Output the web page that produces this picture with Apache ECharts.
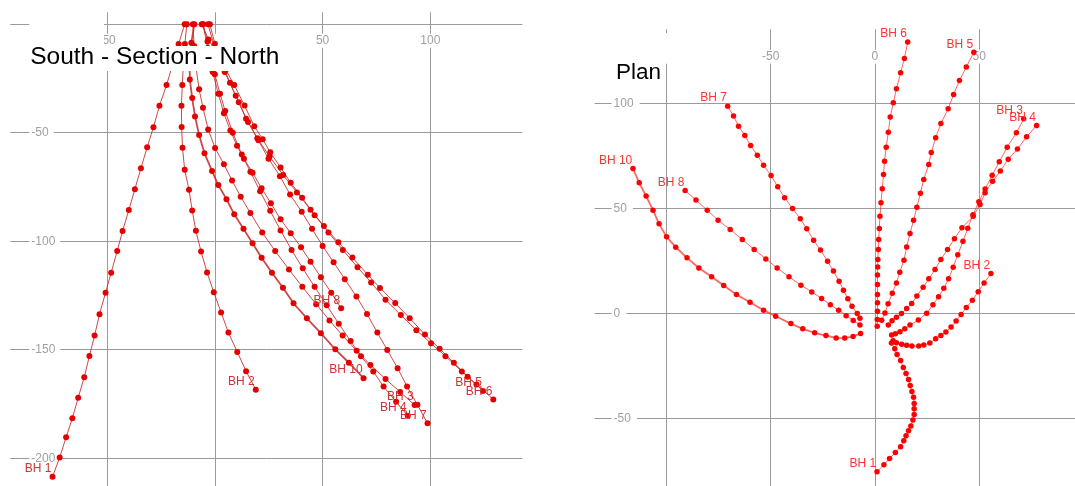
<!DOCTYPE html>
<html>
<head>
<meta charset="utf-8">
<script src="https://cdn.jsdelivr.net/npm/echarts@6.0.0/dist/echarts.min.js"></script>
<style>
  html, body { margin: 0; padding: 0; background: #fff; }
  #chart { width: 1075px; height: 486px; }
</style>
</head>
<body>
<div id="chart"></div>
<script>
// Borehole survey stations: [East, North, Elevation]
const BH1 = [[7.9,-14,0],[9.5,-16.8,-9.1],[10.6,-19.5,-18.3],[12.3,-22.4,-28],[13.6,-25.7,-37.6],[14.9,-28.5,-47.5],[16.1,-31.4,-56.7],[16.9,-34.3,-66.4],[17.7,-37.1,-76],[18.5,-39.9,-85.6],[18.8,-42.8,-95.3],[18.8,-45.3,-104.5],[18.8,-48.1,-114.5],[18.2,-50.7,-123.7],[17.2,-53.5,-133.6],[16.1,-55.8,-143.5],[14.9,-58.2,-152.9],[13.8,-60.6,-162.7],[12.3,-63.4,-172.1],[9.8,-66.1,-181.6],[7.0,-69,-190.3],[4.3,-72,-199.7],[1.0,-75.3,-208.5]];
const BH2 = [[8.7,-13,0],[10.3,-13.9,-9.1],[12.8,-14.6,-18.3],[15.2,-15.1,-28],[17.7,-15.5,-37.6],[21,-15.4,-47.4],[23.4,-15,-56.9],[26.3,-14,-67.1],[29.1,-12,-76.3],[31.6,-10.5,-85.8],[34,-8.8,-95.2],[36.5,-6.4,-104.7],[38.9,-3.6,-114.4],[41.3,-0.5,-123.5],[43.8,2.9,-132.8],[46.7,6.3,-142.1],[49.5,10.4,-151],[52.3,14.5,-159.9],[55.6,19,-168.4]];
const BH3 = [[8,-10.2,0],[9.8,-9.6,-10],[12,-8.7,-20],[14.3,-7.3,-30],[16.8,-5.5,-38.5],[20.8,-3.1,-48.5],[24.8,0.1,-57],[27.8,4.2,-64.5],[30.5,8,-72],[33,12,-79.5],[35.3,16.5,-87],[37.5,22,-96],[39.7,28,-104.5],[42.2,34.4,-113],[44.5,40.6,-121],[47,47,-129],[49.8,53.2,-136.5],[52.8,59.3,-143.5],[56.2,65.8,-150.5],[59.6,72.2,-157],[63.4,79.2,-163.5],[67.8,86,-169.5],[71.3,92.7,-175.5]];
const BH4 = [[6.4,-5.5,0],[8.2,-3.4,-8],[10.3,-1.8,-15],[12.7,0,-23],[15.2,2.4,-32],[17.6,4.8,-40],[20.1,8.3,-50],[23.1,12.5,-60],[25.8,16.5,-68],[28.8,21,-77],[31.6,25.7,-86],[34.8,30.5,-95],[38.1,35.6,-104],[41.7,40.8,-112.5],[47.1,46.3,-121],[50.4,51.9,-129.5],[52.8,57.5,-138],[56.4,63,-146],[60.1,67.8,-153],[63.9,73.5,-160],[68.3,78.3,-167],[72.7,84.1,-174],[77.5,89.5,-180.4]];
const BH5 = [[3.2,-3.2,0],[4.8,0.3,-12],[6.3,4.6,-22],[8.3,9.7,-33],[10.3,14.5,-43.5],[11.9,19.7,-52.5],[13.9,25.4,-61],[15.2,31.7,-69.5],[16.8,38.1,-77.5],[18.5,44.4,-85.5],[20.1,50.6,-93],[21.8,57.3,-100.5],[23.4,63.8,-107.5],[25.8,71,-115.5],[27,76.6,-121.5],[29.1,83.7,-128.5],[31.6,90.4,-135.5],[35.1,97.5,-143],[37.7,104.3,-149.5],[40.5,110.9,-156],[43.8,117.3,-162.5],[47.4,124.4,-169]];
const BH6 = [[1.1,-6.1,0],[1.1,-2.9,-7],[1.2,1.1,-14],[1.2,5.1,-21],[1.2,9,-28],[1.2,13.8,-37.5],[1.2,18.3,-47],[1.3,22.2,-53],[1.4,25.7,-59],[1.6,30.5,-66],[1.8,35.2,-73],[2.1,40.5,-80],[2.4,46.3,-88],[2.9,52.7,-96],[3.5,59.4,-104],[4.1,66.2,-112],[4.6,72.5,-119],[5.4,79.2,-127],[6.4,86.3,-134],[7.3,93.5,-141],[8.8,100.3,-147],[10.3,107,-153],[12.3,114.6,-160],[14.1,121.4,-166],[15.7,129.2,-172.9]];
const BH7 = [[-7.2,-2.3,0],[-8.5,0,-9],[-11,3.5,-18.5],[-13,7,-27],[-15.1,11.1,-36],[-17.2,15.4,-45],[-19.9,20.2,-53.5],[-22.7,24.9,-62],[-26.1,30.2,-70],[-29.4,34.9,-78.5],[-32.7,40.3,-86.4],[-35.8,45.1,-94.3],[-39.5,50,-102.2],[-43.3,55.1,-109.7],[-46.6,60.3,-117.5],[-49.8,65.7,-125.5],[-53.4,70.6,-133.5],[-56.4,75.4,-142.1],[-59.6,80,-150.1],[-62.4,84.8,-158.5],[-65.4,89.2,-167],[-67.8,94,-175.4],[-70.6,98.7,-183.9]];
const BH8 = [[-7.2,-5.5,0],[-10.4,-3.3,-11],[-13.8,-1,-22],[-17.4,1.6,-32],[-21.4,4.2,-41],[-25.6,7.2,-49],[-30.3,10.3,-56],[-35.5,13.5,-62],[-41.2,17.5,-68.4],[-46.9,21.7,-75.6],[-52.3,26,-82.5],[-57.9,30.5,-89.9],[-63.6,35.2,-96.3],[-69.4,40,-102.8],[-75.2,44.4,-109.4],[-80.4,49.2,-116.6],[-85.8,54,-123.7],[-91,58.6,-130.9]];
const BH10 = [[-6.9,-9.5,0],[-10.5,-10.9,-8.5],[-14.5,-11.7,-17],[-18.6,-11.6,-25.5],[-23.5,-10.5,-34],[-28.9,-9.2,-42.5],[-34.6,-7.3,-51],[-40.3,-4.8,-59.5],[-47.6,-1.3,-67.6],[-53.4,1.6,-74.1],[-59.9,5.4,-80.6],[-66.4,9,-87.6],[-72.5,13.3,-94.3],[-78.3,17.5,-100.9],[-84.4,21.7,-107.6],[-90.1,26.5,-114.5],[-95.5,31.6,-121.4],[-99.9,36.5,-128.6],[-103.5,42.7,-135.5],[-106.4,49.2,-142.4],[-109.7,55.9,-149.8],[-113,62.2,-156],[-116,69,-163.1]];

const boreholeNames = ['BH 1','BH 2','BH 3','BH 4','BH 5','BH 6','BH 7','BH 8','BH 10'];
const boreholeData  = [BH1, BH2, BH3, BH4, BH5, BH6, BH7, BH8, BH10];

const FONT = '"Liberation Sans", Arial, sans-serif';
const GRID_COLOR = '#9a9a9a';
const LABEL_COLOR = '#a0a0a0';

function makeSeries(name, pts, panel) {
  const sec = panel === 0;
  const lineColor = sec ? 'rgba(195,40,40,0.85)' : 'rgba(255,50,50,0.75)';
  const dotColor = sec ? '#e50000' : '#ff0000';
  const textColor = sec ? '#cc3333' : '#ff3333';
  const data = pts.map((p, i) => {
    const v = sec ? [p[1], p[2]] : [p[0], p[1]];
    if (i === pts.length - 1) {
      return { value: v, label: { show: true, position: 'left', distance: 0, offset: [2, -8],
        formatter: name, color: textColor, fontSize: 12, fontFamily: FONT } };
    }
    return v;
  });
  return {
    type: 'line', name: name, xAxisIndex: panel, yAxisIndex: panel, data: data,
    symbol: 'circle', symbolSize: sec ? 6 : 5.5, showAllSymbol: true,
    lineStyle: { color: lineColor, width: name === 'BH 10' ? 1.8 : 1 },
    itemStyle: { color: dotColor },
    label: { show: false },
    emphasis: { disabled: true }, silent: true, z: 2
  };
}

const series = [];
boreholeNames.forEach((n, i) => series.push(makeSeries(n, boreholeData[i], 0)));
boreholeNames.forEach((n, i) => series.push(makeSeries(n, boreholeData[i], 1)));

function xAx(grid, min, max, margin, fmt) {
  return {
    gridIndex: grid, type: 'value', position: 'top', min: min, max: max,
    minInterval: 50, maxInterval: 50,
    axisLine: { show: false, onZero: false }, axisTick: { show: false },
    splitLine: { show: true, showMinLine: false, showMaxLine: false, lineStyle: { color: GRID_COLOR, width: 1 } },
    axisLabel: { inside: true, margin: margin, showMinLabel: false, showMaxLabel: false, formatter: fmt,
      color: LABEL_COLOR, fontSize: 12, fontFamily: FONT, backgroundColor: '#fff', padding: [1, 3, 1, 3] }
  };
}
function yAx(grid, min, max, margin, pad, fmt) {
  return {
    gridIndex: grid, type: 'value', position: 'left', min: min, max: max,
    minInterval: 50, maxInterval: 50,
    axisLine: { show: false, onZero: false }, axisTick: { show: false },
    splitLine: { show: true, showMinLine: false, showMaxLine: false, lineStyle: { color: GRID_COLOR, width: 1 } },
    axisLabel: { inside: true, margin: margin, showMinLabel: false, showMaxLabel: false, formatter: fmt,
      color: LABEL_COLOR, fontSize: 12, fontFamily: FONT, backgroundColor: '#fff', padding: pad }
  };
}

const plainFmt = v => String(v);
const leftXFmt = v => (v === 0 ? '\u2007' : String(v));
const leftYFmt = v => (v === 0 ? '' : String(v));

const chart = echarts.init(document.getElementById('chart'), null, { renderer: 'canvas' });
chart.setOption({
  animation: false,
  backgroundColor: '#fff',
  grid: [
    { left: 10.3, top: 12.3, width: 512.1, height: 473.7 },
    { left: 594.6, top: 29.3, width: 480.4, height: 456.7 }
  ],
  xAxis: [ xAx(0, -94.9, 142.7, 21.5, leftXFmt), xAx(1, -134.4, 95.9, 20.4, plainFmt) ],
  yAxis: [ yAx(0, -212.8, 5.5, 19, [1, 5, 1, 2], leftYFmt), yAx(1, -82.1, 135.3, 17, [1, 6, 1, 2], plainFmt) ],
  series: series,
  graphic: [
    { type: 'rect', z: 100, shape: { x: 30, y: 20, width: 74, height: 52 }, style: { fill: '#fff' } },
    { type: 'rect', z: 100, shape: { x: 28, y: 46, width: 254, height: 25 }, style: { fill: '#fff' } },
    { type: 'text', z: 101, x: 30.2, y: 57, style: { text: 'South - Section - North', fill: '#000',
        font: '24.5px "Liberation Sans", Arial, sans-serif', verticalAlign: 'middle', align: 'left' } },
    { type: 'rect', z: 100, shape: { x: 600, y: 33, width: 79, height: 27 }, style: { fill: '#fff' } },
    { type: 'text', z: 101, x: 616, y: 73, style: { text: 'Plan', fill: '#000',
        font: '22.5px "Liberation Sans", Arial, sans-serif', verticalAlign: 'middle', align: 'left' } }
  ]
});
</script>
</body>
</html>
